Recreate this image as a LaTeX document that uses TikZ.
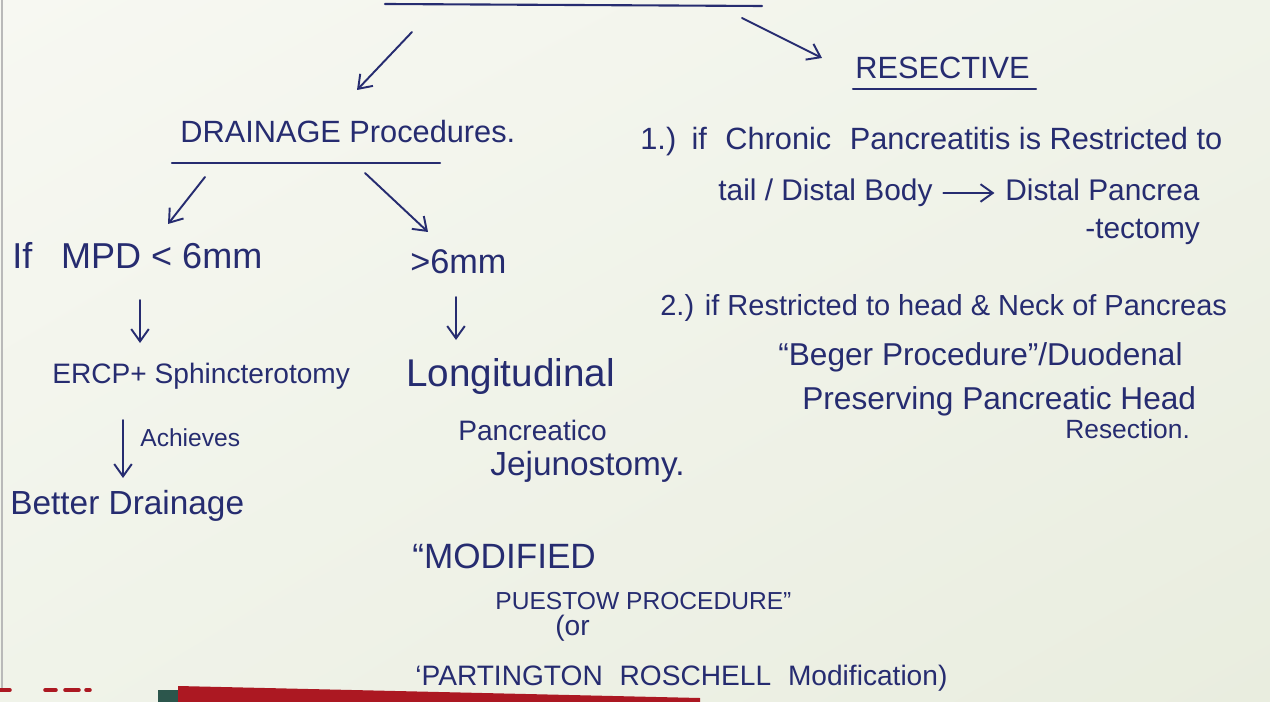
\documentclass[tikz,border=0pt]{standalone}
\usepackage{fontspec}
\setmainfont{Liberation Sans}
\usetikzlibrary{arrows.meta, shadings}

\definecolor{ink}{RGB}{38,44,112}
\definecolor{paperA}{RGB}{247,248,242}
\definecolor{paperM}{RGB}{240,243,233}
\definecolor{paperB}{RGB}{233,237,223}
\definecolor{tape}{RGB}{172,24,34}
\definecolor{blob}{RGB}{44,86,76}
\newcommand{\hw}[1]{\fontsize{#1}{#1}\selectfont}

\begin{document}
\begin{tikzpicture}[x=0.02cm, y=-0.02cm, line cap=round,
    >={Straight Barb[length=7pt, width=10pt]},
    txt/.style={text=ink, inner sep=0pt, anchor=west},
    arr/.style={->, draw=ink, line width=1.1pt},
    rule/.style={draw=ink, line width=1.2pt}]

  % paper
  \useasboundingbox (0,0) rectangle (1270,702);
  \shade[upper left=paperA, upper right=paperM, lower left=paperM, lower right=paperB]
    (0,0) rectangle (1270,702);
  \draw[gray!55, line width=0.8pt] (2,0) -- (2,688);

  % rule under the (cut off) title, and its two branches
  \draw[rule] (385,4) -- (762,6);
  \coordinate (tl) at (412,32);
  \coordinate (tlend) at (357,90);
  \coordinate (tr) at (742,18);
  \coordinate (trend) at (822,58);
  \draw[arr] (tl) -- (tlend);
  \draw[arr] (tr) -- (trend);

  % left branch
  \node[txt, font=\hw{17.5}] (drain) at (180,132) {DRAINAGE Procedures.};
  \draw[rule] (172,163) -- (440,163);

  \coordinate (dl) at (205,177);
  \coordinate (dlend) at (168,224);
  \coordinate (dr) at (365,173);
  \coordinate (drend) at (428,232);
  \draw[arr] (dl) -- (dlend);
  \draw[arr] (dr) -- (drend);

  \node[txt, font=\hw{20.5}] (small) at (12,256) {If\hspace{0.8em}MPD < 6mm};
  \node[txt, font=\hw{19.5}] (big) at (410,262) {>6mm};

  \coordinate (s1) at (140,300);
  \coordinate (s2) at (140,343);
  \coordinate (b1) at (456,297);
  \coordinate (b2) at (456,340);
  \draw[arr] (s1) -- (s2);
  \draw[arr] (b1) -- (b2);

  \node[txt, font=\hw{16}] (ercp) at (52,376) {ERCP+ Sphincterotomy};
  \node[txt, font=\hw{22}] (longi) at (406,377) {Longitudinal};

  \coordinate (e1) at (123,420);
  \coordinate (e2) at (123,478);
  \draw[arr] (e1) -- (e2);
  \node[txt, font=\hw{14}] (achv) at (140,438) {Achieves};

  \node[txt, font=\hw{16}] (pancr) at (458,430) {Pancreatico};
  \node[txt, font=\hw{19}] (jejun) at (490,467) {Jejunostomy.};
  \node[txt, font=\hw{19}] (better) at (10,506) {Better Drainage};

  \node[txt, font=\hw{20}] (modif) at (412,556) {``MODIFIED};
  \node[txt, font=\hw{14}] (puest) at (495,601) {PUESTOW PROCEDURE''};
  \node[txt, font=\hw{16}] (orr) at (555,628) {(or};
  \node[txt, font=\hw{16}] (parti) at (415,678)
    {`PARTINGTON\hspace{0.6em}ROSCHELL\hspace{0.6em}Modification)};

  % right branch
  \node[txt, font=\hw{17.5}] (resect) at (855,68) {RESECTIVE};
  \draw[rule] (853,89) -- (1036,89);

  \node[txt, font=\hw{17.5}] (r1) at (640,142)
    {1.)\hspace{0.5em}if\hspace{0.6em}Chronic\hspace{0.6em}Pancreatitis is Restricted to};
  \node[txt, font=\hw{17}] (r1a) at (718,193) {tail / Distal Body};
  \node[txt, font=\hw{17}] (r1b) at (1005,190) {Distal Pancrea};
  \draw[arr, shorten <=6pt, shorten >=6pt] (r1a.east) -- (r1a.east -| r1b.west);
  \node[txt, font=\hw{17}] (r1c) at (1085,232) {-tectomy};

  \node[txt, font=\hw{16.5}] (r2) at (660,308) {2.) if Restricted to head \& Neck of Pancreas};
  \node[txt, font=\hw{18}] (r2a) at (778,357) {``Beger Procedure''/Duodenal};
  \node[txt, font=\hw{18}] (r2b) at (802,401) {Preserving Pancreatic Head};
  \node[txt, font=\hw{15}] (r2c) at (1065,429) {Resection.};

  % bits of the desk at the bottom edge
  \fill[tape] (178,686) -- (700,698) -- (700,702) -- (178,702) -- cycle;
  \fill[blob] (158,690) rectangle (178,702);
  \foreach \a/\b in {0/10, 45/56, 65/79, 86/90}
    \draw[tape, line width=2pt] (\a,690) -- (\b,690);

\end{tikzpicture}
\end{document}
